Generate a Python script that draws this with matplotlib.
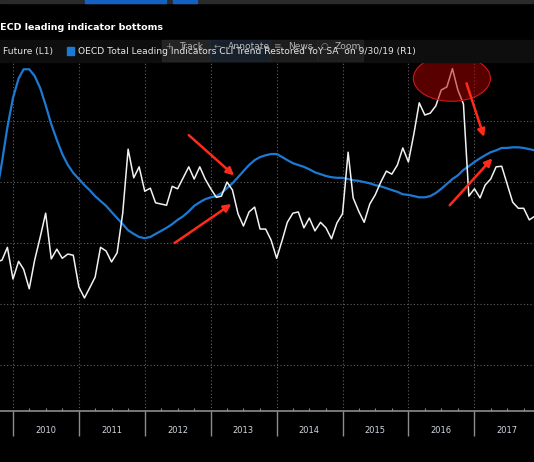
import pandas as pd
import matplotlib.pyplot as plt
import matplotlib.dates as mdates
from matplotlib.patches import Ellipse, Rectangle

## monthly data, Oct 2009 - Dec 2017 (no y labels visible, values read in grid units)
dates = pd.date_range('2009-10-01', periods=99, freq='MS')
future_l1 = [26.9, 27.2, 29.3, 24.1, 27.0, 25.7, 22.5, 27.2, 31.0, 34.9, 27.4, 29.0,
             27.5, 28.2, 28.0, 22.8, 21.0, 22.6, 24.4, 29.3, 28.7, 26.9, 28.4, 34.9,
             45.4, 40.7, 42.5, 38.5, 39.0, 36.6, 36.4, 36.2, 39.3, 38.9, 40.7, 42.5,
             40.5, 42.5, 40.5, 38.9, 37.5, 37.7, 40.0, 38.7, 34.8, 32.8, 35.1, 35.9,
             32.3, 32.3, 30.5, 27.5, 30.5, 33.4, 34.9, 35.1, 32.5, 34.1, 32.0, 33.4,
             32.5, 30.7, 33.3, 34.8, 44.9, 37.4, 35.2, 33.4, 36.4, 37.9, 40.0, 41.8,
             41.3, 42.8, 45.6, 43.3, 48.0, 53.0, 51.0, 51.3, 52.5, 55.1, 55.6, 58.6,
             55.1, 52.8, 37.7, 38.9, 37.4, 39.5, 40.5, 42.5, 42.6, 39.7, 36.7, 35.7,
             35.7, 33.8, 34.4]
oecd_cli_r1 = [37.9, 43.3, 49.0, 53.8, 57.0, 58.5, 58.5, 57.4, 55.4, 52.6, 49.5, 46.9,
               44.6, 42.8, 41.5, 40.5, 39.5, 38.7, 37.7, 36.9, 36.1, 35.1, 34.1, 33.1,
               32.1, 31.5, 31.0, 30.8, 31.0, 31.5, 32.0, 32.5, 33.1, 33.8, 34.4, 35.2,
               36.1, 36.7, 37.2, 37.5, 37.7, 38.2, 39.0, 39.8, 40.8, 41.8, 42.8, 43.6,
               44.1, 44.4, 44.6, 44.6, 44.1, 43.6, 43.1, 42.8, 42.5, 42.1, 41.6, 41.3,
               41.0, 40.8, 40.7, 40.7, 40.5, 40.3, 40.2, 40.0, 39.8, 39.5, 39.3, 39.0,
               38.7, 38.4, 38.0, 37.9, 37.7, 37.5, 37.5, 37.7, 38.2, 38.9, 39.7, 40.5,
               41.1, 42.0, 42.6, 43.3, 43.9, 44.4, 44.9, 45.2, 45.6, 45.6, 45.7, 45.7,
               45.6, 45.4, 45.2]
years = list(range(2010, 2018))

title = 'OECD leading indicator bottoms'
legend_l1 = 'Future (L1)'
legend_r1 = 'OECD Total Leading Indicators CLI Trend Restored YoY SA  on 9/30/19 (R1)'

# arrows (start, end) and highlight ellipse, in date/value coords
arrows = [(('2012-09-01', 47.7), ('2013-05-10', 41.1)),
          (('2012-06-14', 30.0), ('2013-04-25', 36.4)),
          (('2016-11-18', 56.2), ('2017-02-23', 47.4)),
          (('2016-08-17', 36.2), ('2017-04-10', 43.9))]
ellipse_center = ('2016-08-29', 57.0)

W, H = 534, 462
def fx(x):
    return x / W
def fy(y):
    return 1 - y / H

fig = plt.figure(figsize=(5.34, 4.62), dpi=100, facecolor='black')
ax = fig.add_axes([0, fy(411), 1, (411 - 40) / H])
ax.set_facecolor('black')

ax.plot(dates, oecd_cli_r1, color='#1a7ad4', lw=1.6, zorder=3)
ax.plot(dates, future_l1, color='#f2f2f2', lw=1.1, zorder=4)

ax.set_xlim(mdates.date2num(pd.Timestamp('2009-10-21')), mdates.date2num(pd.Timestamp('2017-11-27')))
ax.set_ylim(2.46, 63.3)

ax.set_yticks([10, 20, 30, 40, 50, 60])
ax.tick_params(axis='y', length=0, labelleft=False)
ax.xaxis.set_major_locator(mdates.YearLocator())
ax.xaxis.set_minor_locator(mdates.MonthLocator(bymonth=[4, 7, 10]))
ax.tick_params(axis='x', which='major', direction='out', length=18, width=1,
               color='#8c8c8c', labelbottom=False)
ax.tick_params(axis='x', which='minor', direction='in', length=2.2, width=0.8,
               color='#8c8c8c')
ax.grid(True, which='major', color='#5e5e5e', linestyle=(0, (1, 2)), lw=0.8)
for s in ['top', 'right', 'left']:
    ax.spines[s].set_visible(False)
ax.spines['bottom'].set_color('#8c8c8c')
ax.spines['bottom'].set_linewidth(1.2)

for yr in years:
    ax.text(pd.Timestamp(f'{yr}-07-01'), -19.6 / 371, str(yr), transform=ax.get_xaxis_transform(),
            ha='center', va='center', color='#cfd6e0', fontsize=6.0)

# highlight + arrows
ex = mdates.date2num(pd.Timestamp(ellipse_center[0]))
ax.add_patch(Ellipse((ex, ellipse_center[1]), 427, 7.5, facecolor='#b00000', alpha=0.5,
                     edgecolor='none', zorder=5))
ax.add_patch(Ellipse((ex, ellipse_center[1]), 427, 7.5, facecolor='none',
                     edgecolor='#d01818', lw=0.8, zorder=5))
for (d0, v0), (d1, v1) in arrows:
    ax.annotate('', xy=(pd.Timestamp(d1), v1), xytext=(pd.Timestamp(d0), v0),
                arrowprops=dict(arrowstyle='-|>', color='#ff2a1a', lw=1.8,
                                mutation_scale=11, shrinkA=0, shrinkB=0), zorder=6)

# header: top strip, title, legend strip, toolbar
fig.patches.append(Rectangle((0, fy(3)), 1, 3 / H, transform=fig.transFigure,
                             color='#2a2a2a', zorder=0))
for x0, x1 in [(85, 166), (173, 197)]:
    fig.patches.append(Rectangle((fx(x0), fy(3)), (x1 - x0) / W, 3 / H,
                                 transform=fig.transFigure, color='#1461c4', zorder=1))
fig.text(fx(-7.5), fy(28), title, color='white', fontweight='bold', fontsize=6.8, va='center')

fig.patches.append(Rectangle((0, fy(62)), 1, 22 / H, transform=fig.transFigure,
                             color='#0e0e0e', zorder=0))
fig.text(fx(3.3), fy(51.5), legend_l1, color='#e6e6e6', fontsize=6.6, va='center')
fig.patches.append(Rectangle((fx(66.5), fy(54.5)), 7.5 / W, 7.5 / H, transform=fig.transFigure,
                             color='#1a7ad4', zorder=2))
fig.text(fx(78), fy(51.5), legend_r1, color='#e6e6e6', fontsize=6.6, va='center')

toolbar = [('+', 'Track', 162, 210, '#2c2c2c'), ('\u2190', 'Annotate', 210, 270, '#1d2937'),
           ('\u2261', 'News', 270, 317, '#242424'), ('\u25cb', 'Zoom', 317, 363, '#262626')]
for icon, label, x0, x1, c in toolbar:
    fig.patches.append(Rectangle((fx(x0), fy(60.5)), (x1 - x0) / W, 20.5 / H,
                                 transform=fig.transFigure, color=c, alpha=0.72, zorder=3))
    fig.text(fx(x0 + 7), fy(46.5), icon, color='#8a8a8a', fontsize=6.4, va='center', ha='center', zorder=4)
    fig.text(fx(x0 + 18), fy(46.5), label, color='#b4b4b4', fontsize=6.6, va='center', zorder=4)

plt.savefig('out.png', dpi=100, facecolor='black')
